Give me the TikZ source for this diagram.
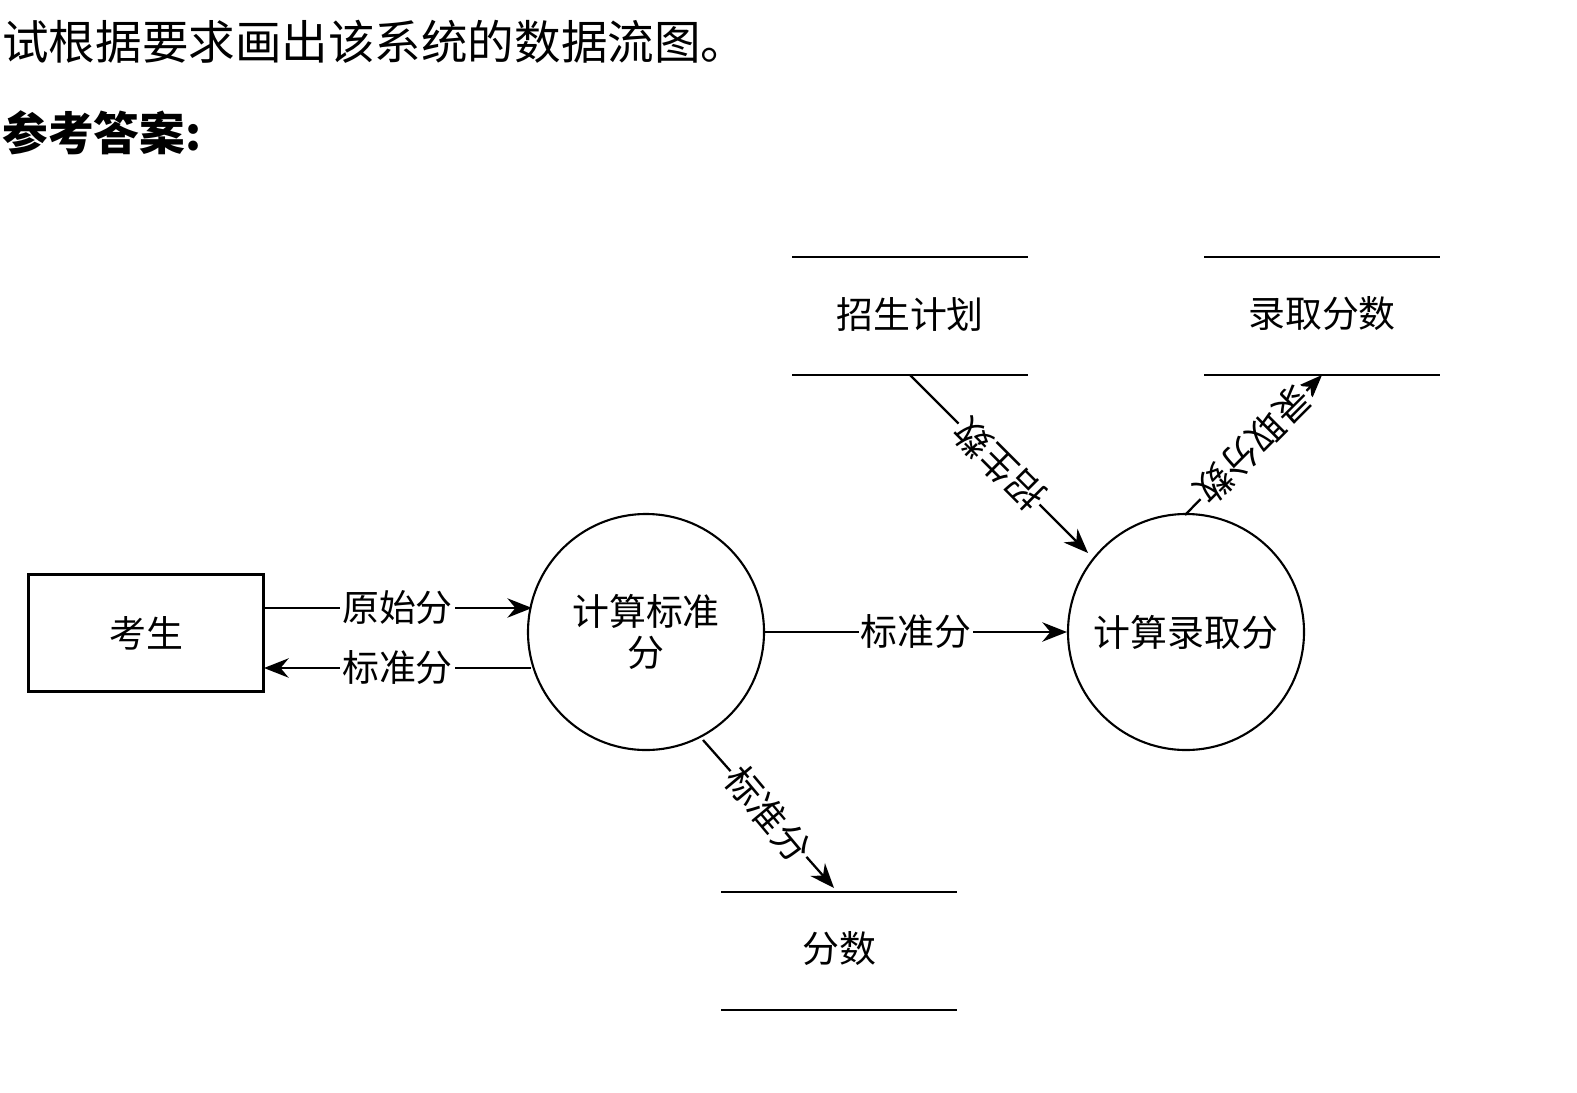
\documentclass[tikz,border=0pt]{standalone}
\usepackage{fontspec}
\setmainfont{Noto Sans CJK SC}
\usetikzlibrary{arrows.meta}
\begin{document}
\begin{tikzpicture}[x=0.02cm,y=-0.02cm,
  lbl/.style={font=\fontsize{21}{23}\selectfont, inner sep=1pt},
  onl/.style={lbl, fill=white},
  flow/.style={line width=1.3pt, -{Stealth[length=14pt,width=11pt]}},
  proc/.style={circle, draw, line width=1.2pt, minimum size=236*0.02cm, inner sep=0pt, align=center, lbl},
  ext/.style={draw, line width=1.2pt, minimum width=235*0.02cm, minimum height=117*0.02cm, lbl},
  st/.style={line width=1.2pt}]
\useasboundingbox (0,0) rectangle (1577,1092);
\node[anchor=west, font=\fontsize{26.5}{28}\selectfont, inner sep=0pt] (title) at (2,42) {试根据要求画出该系统的数据流图。};
\node[anchor=west, font=\fontsize{26}{28}\selectfont\bfseries, inner sep=0pt] (ans) at (2,133) {参考答案:};

\node[ext] (ks) at (146,633) {考生};
\node[proc] (p1) at (646,632) {计算标准\\分};
\node[proc] (p2) at (1186,632) {计算录取分};

\coordinate (a1) at (792,257); \coordinate (a2) at (1028,257);
\coordinate (a3) at (792,375); \coordinate (a4) at (1028,375);
\draw[st] (a1)--(a2) (a3)--(a4);
\node[lbl] (zs) at (910,314) {招生计划};
\coordinate (b1) at (1204,257); \coordinate (b2) at (1440,257);
\coordinate (b3) at (1204,375); \coordinate (b4) at (1440,375);
\draw[st] (b1)--(b2) (b3)--(b4);
\node[lbl] (lq) at (1322,314) {录取分数};
\coordinate (c1) at (721,892); \coordinate (c2) at (957,892);
\coordinate (c3) at (721,1010); \coordinate (c4) at (957,1010);
\draw[st] (c1)--(c2) (c3)--(c4);
\node[lbl] (fs) at (839,948) {分数};

\coordinate (k1) at (263,608); \coordinate (q1) at (532,608);
\draw[flow] (k1) -- node[onl]{原始分} (q1);
\coordinate (q2) at (531,668); \coordinate (k2) at (264,668);
\draw[flow] (q2) -- node[onl]{标准分} (k2);
\draw[flow] (p1.east) -- node[onl]{标准分} (p2.west);
\coordinate (z0) at (910,375); \coordinate (z1) at (1088,553);
\draw[flow] (z0) -- node[onl, rotate=135]{招生数} (z1);
\coordinate (r0) at (1185,515); \coordinate (r1) at (1322,375);
\draw[flow] (r0) -- node[onl, rotate=225]{录取分数} (r1);
\coordinate (s0) at (703,740); \coordinate (s1) at (834,888);
\draw[flow] (s0) -- node[onl, rotate=-50]{标准分} (s1);
\end{tikzpicture}
\end{document}
